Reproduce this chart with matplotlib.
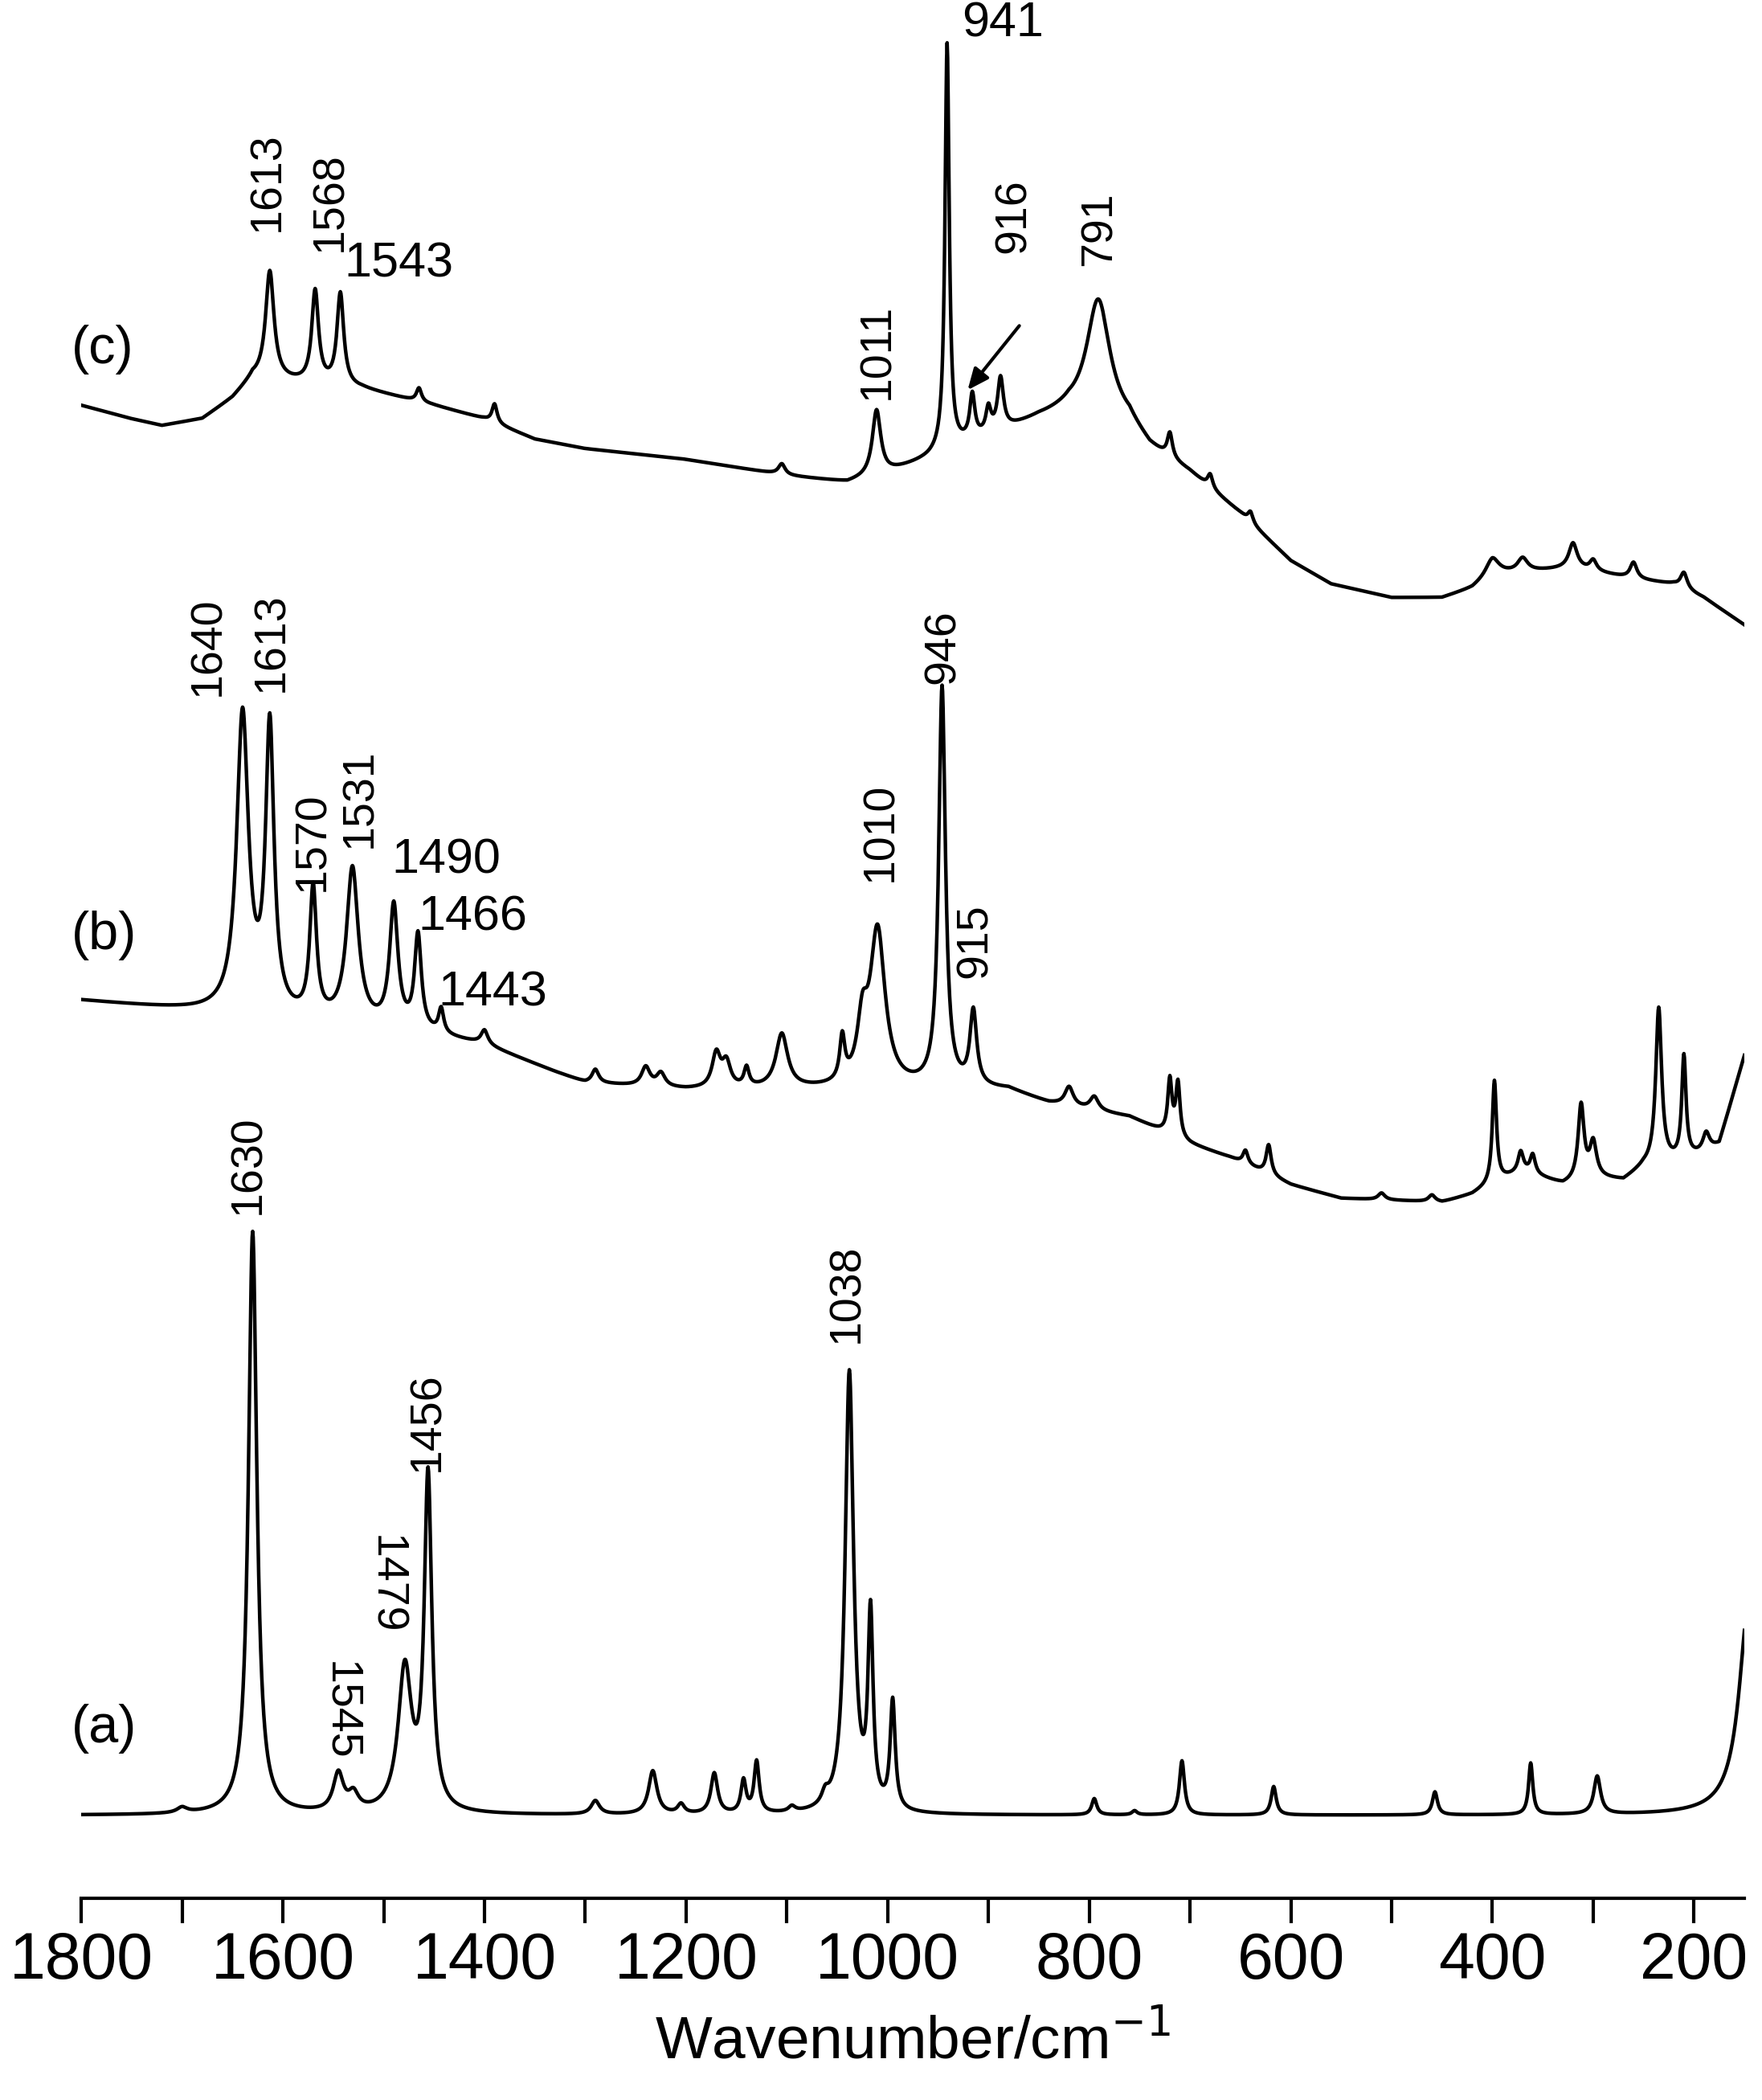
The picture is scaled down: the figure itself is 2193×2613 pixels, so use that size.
import numpy as np
import matplotlib
matplotlib.use("Agg")
import matplotlib.pyplot as plt

plt.rcParams['font.family'] = ['Liberation Sans', 'DejaVu Sans']

# wavenumber grid
wn = np.arange(150, 1800.5, 0.5)

# ---- spectrum (a): peaks (position, height, half width) ----
a_pos = [1630, 1545, 1530, 1479, 1456, 1700, 1290, 1233, 1205, 1172, 1143, 1130, 1095, 1062,
         1038, 1017, 995, 795, 755, 708, 617, 457, 362, 296, 145]
a_hgt = [430, 28, 12, 105, 245, 4, 10, 32, 7, 30, 24, 38, 4, 8,
         325, 140, 80, 12, 3, 40, 21, 17, 38, 28, 160]
a_hw = [5, 6, 6, 8, 4.5, 6, 5, 5, 4, 4, 3, 3, 4, 4,
        5, 3, 3, 3, 3, 3, 3, 3, 2.5, 4, 12]
a_base_x = [1800, 150]
a_base_y = [210, 210]

# ---- spectrum (b) ----
b_pos = [1640, 1613, 1570, 1531, 1490, 1466, 1443, 1400, 1290, 1240, 1225, 1170, 1160, 1140, 1105,
         1045, 1025, 1010, 946, 915, 820, 795, 720, 712, 645, 622, 510, 460, 398, 372, 360,
         312, 300, 235, 210, 188]
b_hgt = [220, 210, 95, 115, 90, 70, 18, 10, 10, 14, 10, 25, 18, 14, 40,
         32, 40, 115, 295, 55, 14, 10, 40, 40, 10, 22, 5, 5, 75, 14, 14,
         55, 25, 115, 75, 14]
b_hw = [7, 5, 4, 7, 5, 4, 3, 4, 4, 5, 5, 5, 5, 3, 7,
        3, 6, 9, 4, 4, 5, 5, 2.5, 2.5, 3, 3, 4, 4, 2.5, 3, 3,
        3.5, 4, 3.5, 2.5, 4]
b_base_x = [1800, 1700, 1660, 1450, 1400, 1330, 1300, 1200, 1000, 880, 840, 760, 700, 660,
            600, 550, 450, 420, 400, 370, 330, 300, 270, 250, 220, 190, 175, 150]
b_base_y = [811, 804, 801, 785, 778, 758, 750, 745, 745, 745, 735, 725, 705, 695,
            675, 665, 662, 668, 676, 685, 675, 680, 678, 688, 692, 698, 705, 770]

# ---- spectrum (c) ----
c_pos = [1613, 1568, 1543, 1465, 1390, 1105, 1011, 941, 916, 900, 888, 791, 720, 680, 640,
         400, 370, 320, 300, 260, 210]
c_hgt = [80, 68, 68, 10, 14, 8, 48, 300, 32, 18, 38, 88, 18, 10, 8,
         12, 10, 18, 8, 12, 12]
c_hw = [5, 4, 4, 3, 3, 4, 5, 2.5, 3, 3, 3.5, 14, 3, 3, 3,
        8, 6, 5, 4, 4, 4]
c_base_x = [1800, 1750, 1720, 1680, 1650, 1630, 1520, 1450, 1400, 1350, 1300, 1200, 1100,
            1040, 1000, 960, 920, 880, 850, 820, 760, 740, 700, 650, 600, 560, 500, 450,
            420, 400, 320, 260, 220, 190, 150]
c_base_y = [1250, 1240, 1235, 1240, 1255, 1270, 1262, 1250, 1240, 1225, 1218, 1210, 1198,
            1193, 1200, 1210, 1222, 1232, 1240, 1245, 1235, 1218, 1200, 1170, 1135, 1118, 1108, 1108,
            1115, 1125, 1130, 1122, 1118, 1108, 1088]

# labels: (text, wavenumber, y, rotation)
lab_c = [("1613", 1615, 1415, 90), ("1568", 1553, 1400, 90), ("1543", 1539, 1354, 0),
         ("1011", 1010, 1290, 90), ("941", 926, 1531, 0), ("916", 875, 1390, 90), ("791", 790, 1380, 90)]
lab_b = [("1640", 1674, 1072, 90), ("1613", 1611, 1075, 90), ("1570", 1570, 928, 90),
         ("1531", 1523, 960, 90), ("1490", 1492, 914, 0), ("1466", 1466, 872, 0),
         ("1443", 1446, 816, 0), ("1010", 1007, 935, 90), ("946", 945, 1072, 90), ("915", 913, 855, 90)]
lab_a = [("1630", 1634, 690, 90), ("1545", 1543, 287, -90), ("1479", 1499, 380, -90),
         ("1456", 1456, 500, 90), ("1038", 1040, 595, 90)]


def spectrum(pos, hgt, hw, bx, by):
    y = np.interp(wn, bx[::-1], by[::-1])
    for p, h, w in zip(pos, hgt, hw):
        y = y + h * w**2 / ((wn - p)**2 + w**2)
    return y


fig = plt.figure(figsize=(21.93, 26.13), dpi=100)
ax = fig.add_axes([60/1300, 149/1549, 1227/1300, 1400/1549])

for pos, hgt, hw, bx, by in [(a_pos, a_hgt, a_hw, a_base_x, a_base_y),
                              (b_pos, b_hgt, b_hw, b_base_x, b_base_y),
                              (c_pos, c_hgt, c_hw, c_base_x, c_base_y)]:
    ax.plot(wn, spectrum(pos, hgt, hw, bx, by), color='black', lw=3.2)

for labs in (lab_a, lab_b, lab_c):
    for t, x, y, r in labs:
        if r == 0:
            ax.text(x, y, t, rotation=0, ha='left', va='center', fontsize=44,
                    family=['Liberation Sans Narrow', 'Liberation Sans'])
        else:
            ax.text(x, y, t, rotation=r, ha='center', va='center', fontsize=40)

for t, y in [("(c)", 1291), ("(b)", 859), ("(a)", 274)]:
    ax.text(1810, y, t, ha='left', va='center', fontsize=48)

ax.annotate("", xy=(922, 1260), xytext=(868, 1310),
            arrowprops=dict(arrowstyle='-|>,head_length=1.6,head_width=0.7', color='black', lw=3))

ax.set_xlim(1800, 150)
ax.set_ylim(149, 1549)
for s in ['left', 'right', 'top']:
    ax.spines[s].set_visible(False)
ax.spines['bottom'].set_linewidth(3)
ax.set_yticks([])
ax.set_xticks([1800, 1600, 1400, 1200, 1000, 800, 600, 400, 200])
ax.set_xticks(np.arange(1800, 149, -100), minor=True)
ax.tick_params(axis='x', which='both', direction='out', length=22, width=3, labelsize=58, pad=8)
ax.set_xlabel("Wavenumber/cm$^{-1}$", fontsize=54, labelpad=18)

fig.savefig("out.png", dpi=100)
